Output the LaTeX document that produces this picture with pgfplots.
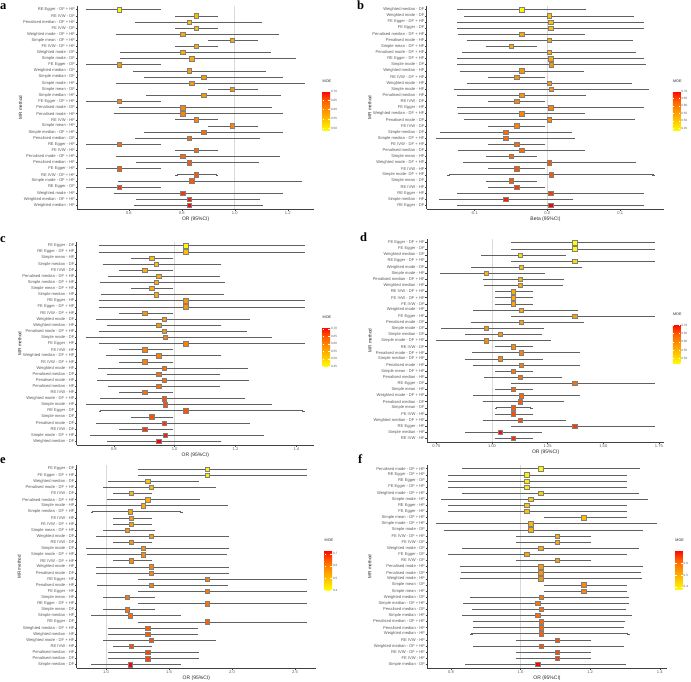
\documentclass[border=0pt]{standalone}
\usepackage{pgfplots}
\pgfplotsset{compat=1.18}
\usepackage{pgfplotstable}
\usepackage{fontspec}
\setmainfont{Liberation Sans}
\newfontfamily\panelfont{Liberation Serif}

\pgfplotstableread{
row est lo hi moe
1 0.565 0.444 0.718 0.49
2 0.854 0.781 0.932 0.55
3 0.829 0.628 1.098 0.55
4 0.854 0.781 0.932 0.55
5 0.803 0.555 1.164 0.57
6 0.990 0.904 1.083 0.57
7 0.854 0.781 0.932 0.57
8 0.803 0.571 1.131 0.57
9 0.838 0.571 1.228 0.57
10 0.565 0.444 0.718 0.59
11 0.829 0.620 1.112 0.59
12 0.883 0.662 1.177 0.59
13 0.838 0.557 1.259 0.59
14 0.990 0.904 1.083 0.59
15 0.883 0.669 1.169 0.59
16 0.565 0.444 0.718 0.61
17 0.803 0.567 1.136 0.61
18 0.803 0.548 1.177 0.61
19 0.854 0.781 0.932 0.61
20 0.990 0.904 1.083 0.61
21 0.883 0.662 1.177 0.635
22 0.829 0.630 1.091 0.635
23 0.565 0.444 0.718 0.635
24 0.854 0.781 0.932 0.635
25 0.803 0.555 1.165 0.635
26 0.829 0.633 1.087 0.65
27 0.565 0.444 0.718 0.65
28 0.854 0.781 0.932 0.65
29 0.838 0.565 1.250 0.65
30 0.565 0.444 0.718 0.67
31 0.803 0.548 1.177 0.67
32 0.829 0.633 1.091 0.685
33 0.829 0.625 1.101 0.70
}\tabA

\pgfplotstableread{
row est lo hi moe
1 -0.0352 -0.1219 0.0516 0.44
2 0.0027 -0.1119 0.1174 0.51
3 0.0046 -0.1219 0.1306 0.51
4 0.0046 -0.1219 0.1306 0.51
5 -0.0352 -0.1205 0.0498 0.54
6 0.0027 -0.1091 0.1151 0.54
7 -0.0498 -0.0826 -0.0164 0.54
8 0.0027 -0.1151 0.1205 0.54
9 0.0046 -0.1219 0.1306 0.54
10 0.0055 -0.1219 0.1329 0.57
11 -0.0352 -0.1187 0.0484 0.57
12 -0.0420 -0.0799 -0.0046 0.57
13 0.0027 -0.1082 0.1142 0.57
14 0.0055 -0.1265 0.1374 0.57
15 -0.0352 -0.1219 0.0507 0.57
16 -0.0420 -0.0799 -0.0046 0.59
17 0.0046 -0.1219 0.1306 0.59
18 -0.0352 -0.1205 0.0498 0.59
19 0.0027 -0.1119 0.1183 0.59
20 -0.0420 -0.0799 -0.0046 0.59
21 -0.0571 -0.1452 0.0324 0.62
22 -0.0571 -0.1507 0.0361 0.62
23 -0.0420 -0.0799 -0.0046 0.62
24 -0.0352 -0.1205 0.0498 0.62
25 -0.0498 -0.0826 -0.0164 0.62
26 0.0027 -0.1142 0.1196 0.64
27 -0.0420 -0.0799 -0.0046 0.64
28 0.0055 -0.1352 0.1457 0.64
29 -0.0498 -0.0826 -0.0164 0.64
30 -0.0420 -0.0799 -0.0046 0.66
31 0.0046 -0.1219 0.1306 0.66
32 -0.0571 -0.1470 0.0342 0.68
33 0.0046 -0.1219 0.1306 0.70
}\tabB

\pgfplotstableread{
row est lo hi moe
1 1.036 0.755 1.423 0.45
2 1.036 0.755 1.423 0.525
3 0.925 0.862 0.992 0.525
4 0.940 0.767 1.150 0.525
5 0.901 0.822 0.990 0.55
6 0.947 0.786 1.144 0.55
7 0.940 0.759 1.160 0.55
8 0.925 0.862 0.992 0.55
9 0.940 0.762 1.158 0.55
10 1.036 0.755 1.423 0.58
11 1.036 0.755 1.423 0.58
12 0.901 0.822 0.990 0.58
13 0.965 0.747 1.245 0.58
14 0.947 0.782 1.150 0.58
15 0.965 0.755 1.233 0.58
16 0.968 0.713 1.316 0.605
17 1.036 0.755 1.423 0.605
18 0.901 0.822 0.990 0.605
19 0.947 0.779 1.150 0.605
20 0.901 0.822 0.990 0.605
21 0.965 0.752 1.238 0.63
22 0.947 0.782 1.146 0.63
23 0.965 0.749 1.242 0.63
24 0.947 0.786 1.144 0.63
25 0.901 0.822 0.990 0.63
26 0.965 0.759 1.228 0.655
27 0.968 0.713 1.316 0.655
28 1.036 0.755 1.423 0.655
29 0.925 0.862 0.992 0.655
30 0.965 0.747 1.245 0.675
31 0.901 0.822 0.990 0.675
32 0.968 0.727 1.289 0.695
33 0.947 0.782 1.150 0.712
}\tabC

\pgfplotstableread{
row est lo hi moe
1 1.371 1.091 1.726 0.47
2 1.371 1.091 1.726 0.47
3 1.127 0.958 1.325 0.50
4 1.371 1.091 1.726 0.51
5 1.130 0.912 1.401 0.54
6 0.975 0.774 1.232 0.55
7 1.127 0.967 1.317 0.55
8 1.127 0.969 1.314 0.56
9 1.094 1.019 1.177 0.56
10 1.094 1.019 1.177 0.56
11 1.094 1.019 1.177 0.57
12 1.130 0.922 1.383 0.57
13 1.371 1.091 1.726 0.58
14 1.130 0.909 1.407 0.58
15 0.975 0.777 1.228 0.59
16 1.037 0.885 1.220 0.59
17 0.975 0.756 1.259 0.60
18 1.094 1.019 1.177 0.60
19 1.130 0.916 1.392 0.61
20 1.037 0.882 1.223 0.61
21 1.130 0.918 1.389 0.62
22 1.094 1.019 1.177 0.62
23 1.127 0.969 1.311 0.63
24 1.371 1.091 1.726 0.63
25 1.094 1.019 1.177 0.64
26 1.130 0.918 1.389 0.64
27 1.127 0.963 1.320 0.65
28 1.094 1.019 1.177 0.65
29 1.094 1.019 1.177 0.66
30 1.127 0.963 1.325 0.66
31 1.371 1.091 1.726 0.67
32 1.037 0.885 1.217 0.70
33 1.094 1.019 1.177 0.68
}\tabD

\pgfplotstableread{
row est lo hi moe
1 1.804 1.262 2.585 0.41
2 1.804 1.262 2.585 0.42
3 1.331 1.024 1.730 0.49
4 1.357 0.989 1.862 0.50
5 1.201 1.066 1.354 0.51
6 1.331 1.016 1.738 0.52
7 1.296 0.857 1.955 0.53
8 1.190 0.889 1.598 0.54
9 1.201 1.066 1.354 0.55
10 1.201 1.066 1.354 0.55
11 1.167 0.989 1.376 0.56
12 1.357 0.931 1.968 0.56
13 1.201 1.066 1.354 0.57
14 1.296 0.852 1.968 0.57
15 1.296 0.862 1.950 0.58
16 1.201 1.066 1.354 0.58
17 1.357 0.931 1.963 0.59
18 1.357 0.931 1.968 0.59
19 1.804 1.262 2.585 0.60
20 1.357 0.937 1.960 0.60
21 1.804 1.262 2.585 0.61
22 1.167 0.989 1.376 0.61
23 1.804 1.262 2.585 0.62
24 1.167 0.989 1.376 0.62
25 1.190 0.894 1.585 0.63
26 1.804 1.262 2.585 0.64
27 1.331 1.029 1.717 0.65
28 1.331 1.029 1.717 0.65
29 1.357 0.989 1.862 0.66
30 1.201 1.066 1.354 0.66
31 1.331 1.024 1.730 0.67
32 1.331 1.024 1.725 0.67
33 1.190 0.894 1.585 0.728
}\tabE

\pgfplotstableread{
row est lo hi moe
1 1.058 0.835 1.340 0.38
2 1.018 0.795 1.303 0.39
3 1.018 0.795 1.303 0.40
4 1.018 0.795 1.303 0.41
5 1.058 0.835 1.338 0.45
6 1.029 0.775 1.363 0.46
7 1.018 0.795 1.303 0.46
8 1.018 0.795 1.303 0.47
9 1.181 1.070 1.303 0.48
10 1.029 0.760 1.390 0.49
11 1.029 0.782 1.349 0.50
12 1.105 0.990 1.200 0.50
13 1.105 0.990 1.200 0.51
14 1.058 0.835 1.336 0.51
15 1.018 0.795 1.303 0.52
16 1.105 0.990 1.200 0.53
17 1.058 0.828 1.349 0.54
18 1.058 0.832 1.344 0.55
19 1.058 0.830 1.346 0.55
20 1.181 1.070 1.303 0.57
21 1.181 1.070 1.303 0.57
22 1.060 0.859 1.308 0.59
23 1.049 0.838 1.308 0.60
24 1.060 0.864 1.300 0.60
25 1.049 0.834 1.316 0.61
26 1.060 0.866 1.298 0.62
27 1.060 0.867 1.295 0.62
28 1.060 0.859 1.310 0.63
29 1.105 0.990 1.200 0.64
30 1.060 0.867 1.295 0.64
31 1.105 0.990 1.200 0.65
32 1.105 0.990 1.200 0.66
33 1.049 0.845 1.300 0.714
}\tabF

\pgfplotsset{
  mr/.style={
    scale only axis, height=203pt,
    ymin=0.4, ymax=33.6, ytick={1,...,33},
    axis lines=left, axis line style={-, draw=black!75, line width=0.45pt},
    tick align=outside, major tick length=1.6pt,
    tick style={draw=black!75, line width=0.4pt},
    yticklabel style={font=\fontsize{4.1}{4.1}\selectfont, text=black!65, inner sep=0.6pt},
    xticklabel style={font=\fontsize{4.1}{4.1}\selectfont, text=black!65, inner sep=0.6pt},
    xlabel style={font=\fontsize{5}{5}\selectfont, text=black!85, at={(axis description cs:0.5,-0.048)}, anchor=center},
    ylabel style={font=\fontsize{4.6}{4.6}\selectfont, text=black!85, at={(axis description cs:-0.24,0.5)}, anchor=center},
    ylabel={MR method},
    colormap={moe}{rgb255=(255,255,0) rgb255=(255,200,0) rgb255=(255,150,0) rgb255=(255,95,0) rgb255=(255,0,0)},
    colorbar,
    clip=false,
  },
  cb/.style={
    at={(parent axis.north east)}, anchor=north west, xshift=0pt, yshift=-85pt,
    width=7.5pt, height=40pt, scale only axis,
    axis line style={draw=none},
    major tick length=1.6pt, tick style={draw=white, line width=0.4pt},
    yticklabel style={font=\fontsize{3.1}{3.1}\selectfont, text=black!65, inner sep=0.8pt},
    title={MOE},
    title style={font=\fontsize{3.7}{3.7}\selectfont, text=black!85, at={(0,1)}, anchor=south west, inner sep=0pt, yshift=2.5pt},
  },
  refl/.style={black!15, line width=0.8pt, forget plot},
  fp/.style={scatter, only marks, mark=square*, mark size=2.2pt, point meta=explicit,
    scatter/use mapped color={draw=black!50, fill=mapped color},
    mark options={line width=0.35pt},
    error bars/.cd, x dir=both, x explicit,
    error bar style={draw=black!62, line width=0.55pt},
    error mark options={draw=black!62, line width=0.5pt, mark size=1.2pt}},
  table/fptab/.style={x=est, y expr=34-\thisrow{row}, x error plus expr=\thisrow{hi}-\thisrow{est}, x error minus expr=\thisrow{est}-\thisrow{lo}, meta=moe},
}

\begin{document}
\begin{tikzpicture}
\useasboundingbox (0,0) rectangle (691pt,681pt);

% ---------- a ----------
\begin{axis}[mr, at={(77.3pt,472pt)}, anchor=south west, width=236.7pt,
  xmin=0.406, xmax=1.299, xtick={0.4,0.6,0.8,1.0,1.2}, xticklabels={0.4,0.6,0.8,1.0,1.2},
  xlabel={OR (95\%CI)},
  yticklabels={Weighted median - HF, Weighted median - DF + HF, Weighted mode - HF, RE Egger - DF, Simple mode - DF + HF, RE IVW - DF + HF, FE Egger - HF, Penalised median - HF, Penalised mode - DF + HF, FE IVW - HF, RE Egger - HF, Penalised median - DF, Simple median - DF + HF, Simple mean - HF, RE IVW - HF, Penalised mode - HF, Penalised mode - DF, FE Egger - DF + HF, Simple median - HF, Simple mean - DF, Simple mode - HF, Simple median - DF, Weighted median - DF, FE Egger - DF, Simple mode - DF, Weighted mode - DF, FE IVW - DF + HF, Simple mean - DF + HF, Weighted mode - DF + HF, FE IVW - DF, Penalised median - DF + HF, RE IVW - DF, RE Egger - DF + HF},
  point meta min=0.484, point meta max=0.70,
  colorbar style={cb, ytick={0.5,0.55,0.6,0.65,0.7}, yticklabels={0.50,0.55,0.60,0.65,0.70}}]
\addplot[refl] coordinates {(1,0.4) (1,33.6)};
\addplot[fp] table[fptab] {\tabA};
\end{axis}

% ---------- b ----------
\begin{axis}[mr, at={(426.7pt,472pt)}, anchor=south west, width=237.6pt,
  xmin=-0.1653, xmax=0.1603, xtick={-0.1,0,0.1}, xticklabels={-0.1,0.0,0.1},
  xlabel={Beta (95\%CI)},
  yticklabels={RE Egger - DF, Simple median - HF, RE Egger - HF, RE IVW - HF, Simple mean - DF, Simple mode- DF + HF, FE IVW - HF, Weighted mode - DF + HF, Simple mean - HF, Penalised median - DF, FE IVW - DF + HF, Simple median - DF + HF, Simple median - DF, FE IVW - DF, Penalised mode - DF, Weighted median - DF + HF, FE Egger - HF, RE IVW - DF, Penalised median - HF, Simple mode - HF, Weighted mode - HF, RE IVW - DF + HF, Weighted median - HF, Simple mode - DF, RE Egger - DF + HF, Penalised mode - DF + HF, Simple mean - DF + HF, Penalised mode - HF, Penalised median - DF + HF, FE Egger - DF, FE Egger - DF + HF, Weighted mode - DF, Weighted median - DF},
  point meta min=0.432, point meta max=0.70,
  colorbar style={cb, ytick={0.45,0.5,0.55,0.6,0.65,0.7}, yticklabels={0.45,0.50,0.55,0.60,0.65,0.70}}]
\addplot[refl] coordinates {(0,0.4) (0,33.6)};
\addplot[fp] table[fptab] {\tabB};
\end{axis}

% ---------- c ----------
\begin{axis}[mr, at={(76.7pt,236pt)}, anchor=south west, width=237.3pt,
  xmin=0.678, xmax=1.458, xtick={0.8,1.0,1.2,1.4}, xticklabels={0.8,1.0,1.2,1.4},
  xlabel={OR (95\%CI)},
  yticklabels={Weighted median - DF, Simple mode - DF + HF, RE IVW - DF, Penalised mode - DF, Simple mean - DF, RE Egger - DF, Simple mode - HF, Weighted mode - DF + HF, RE IVW - HF, Penalised median - HF, Penalised mode - HF, Penalised median - DF, Weighted mode - HF, FE IVW - DF + HF, Weighted median - DF + HF, FE IVW - HF, FE Egger - HF, Simple mode - DF, Penalised mode - DF + HF, Weighted median - HF, Weighted mode - DF, RE IVW - DF + HF, FE Egger - DF + HF, RE Egger - HF, Simple median - HF, Simple mean - DF + HF, Simple median - DF + HF, Penalised median - DF + HF, FE IVW - DF, Simple median - DF, Simple mean - HF, RE Egger - DF + HF, FE Egger - DF},
  point meta min=0.445, point meta max=0.712,
  colorbar style={cb, ytick={0.45,0.5,0.55,0.6,0.65,0.7}, yticklabels={0.45,0.50,0.55,0.60,0.65,0.70}}]
\addplot[refl] coordinates {(1,0.4) (1,33.6)};
\addplot[fp] table[fptab] {\tabC};
\end{axis}

% ---------- d ----------
\begin{axis}[mr, at={(427pt,239pt)}, anchor=south west, width=237.3pt,
  xmin=0.708, xmax=1.774, xtick={0.75,1.0,1.25,1.5,1.75}, xticklabels={0.75,1.00,1.25,1.50,1.75},
  xlabel={OR (95\%CI)},
  yticklabels={RE IVW - HF, Simple median - HF, RE Egger - HF, Weighted median - DF + HF, FE IVW - HF, Simple mean - DF, Penalised median - DF, Weighted mode - DF + HF, Simple mean - HF, RE Egger - DF, Penalised median - HF, Simple mean - DF + HF, Penalised mode - HF, Simple median - DF + HF, Penalised mode - DF + HF, RE IVW - DF, Simple mode - DF + HF, Simple median - DF, Simple mode - DF, Penalised mode - DF, FE Egger - HF, Weighted mode - HF, FE IVW - DF, FE IVW - DF + HF, RE IVW - DF + HF, Weighted median - HF, Penalised median - DF + HF, Simple mode - HF, Weighted mode - DF, RE Egger - DF + HF, Weighted median - DF, FE Egger - DF, FE Egger - DF + HF},
  point meta min=0.468, point meta max=0.706,
  colorbar style={cb, ytick={0.5,0.55,0.6,0.65,0.7}, yticklabels={0.50,0.55,0.60,0.65,0.70}}]
\addplot[refl] coordinates {(1,0.4) (1,33.6)};
\addplot[fp] table[fptab] {\tabD};
\end{axis}

% ---------- e ----------
\begin{axis}[mr, at={(76.7pt,12.7pt)}, anchor=south west, width=239.3pt,
  xmin=0.767, xmax=2.667, xtick={1.0,1.5,2.0,2.5}, xticklabels={1.0,1.5,2.0,2.5},
  xlabel={OR (95\%CI)},
  yticklabels={Simple median - DF, Penalised median - DF, Penalised median - HF, RE IVW - HF, Weighted mode - DF + HF, Weighted median - HF, Weighted median - DF + HF, RE Egger - DF, Simple median - HF, Simple mean - DF, RE Egger - DF + HF, Simple mean - HF, FE Egger - HF, Penalised mode - HF, RE Egger - HF, Penalised mode - DF, Weighted mode - HF, RE IVW - DF + HF, Simple mode - DF + HF, Simple mode - DF, RE IVW - DF, Weighted mode - DF, Simple mean - DF + HF, FE IVW - DF + HF, FE IVW - HF, Simple median - DF + HF, Simple mode - HF, Penalised median - DF + HF, FE IVW - DF, Penalised mode - DF + HF, Weighted median - DF, FE Egger - DF + HF, FE Egger - DF},
  point meta min=0.40, point meta max=0.728,
  colorbar style={cb, ytick={0.4,0.5,0.6,0.7}, yticklabels={0.4,0.5,0.6,0.7}}]
\addplot[refl] coordinates {(1,0.4) (1,33.6)};
\addplot[fp] table[fptab] {\tabE};
\end{axis}

% ---------- f ----------
\begin{axis}[mr, at={(427.3pt,13pt)}, anchor=south west, width=239.4pt,
  xmin=0.732, xmax=1.420, xtick={0.8,1.0,1.2,1.4}, xticklabels={0.8,1.0,1.2,1.4},
  xlabel={OR (95\%CI)},
  yticklabels={Simple median - DF, FE IVW - HF, RE IVW - DF + HF, Weighted median - DF + HF, RE IVW - HF, Weighted median - HF, Penalised median - HF, Penalised median - DF + HF, Simple median - HF, Penalised median - DF, Simple median - DF + HF, Weighted median - DF, Simple mean - HF, Simple mean - DF, Weighted mode - HF, Penalised mode - DF, Penalised mode - HF, RE IVW - DF, FE Egger - DF, Weighted mode - DF, FE IVW - DF, FE IVW - DF + HF, Simple mode - DF, Simple mode - DF + HF, Simple mean - DF + HF, FE Egger - HF, RE Egger - HF, Simple mode - HF, Weighted mode - DF + HF, FE Egger - DF + HF, RE Egger - DF, RE Egger - DF + HF, Penalised mode - DF + HF},
  point meta min=0.372, point meta max=0.714,
  colorbar style={cb, ytick={0.4,0.5,0.6}, yticklabels={0.4,0.5,0.6}}]
\addplot[refl] coordinates {(1,0.4) (1,33.6)};
\addplot[fp] table[fptab] {\tabF};
\end{axis}

% panel letters
\node[anchor=base west, inner sep=0pt, font=\panelfont\bfseries\fontsize{12.5}{12.5}\selectfont] at (0pt,671.5pt) {a};
\node[anchor=base west, inner sep=0pt, font=\panelfont\bfseries\fontsize{12.5}{12.5}\selectfont] at (357pt,671.5pt) {b};
\node[anchor=base west, inner sep=0pt, font=\panelfont\bfseries\fontsize{12.5}{12.5}\selectfont] at (0pt,438.5pt) {c};
\node[anchor=base west, inner sep=0pt, font=\panelfont\bfseries\fontsize{12.5}{12.5}\selectfont] at (360pt,439pt) {d};
\node[anchor=base west, inner sep=0pt, font=\panelfont\bfseries\fontsize{12.5}{12.5}\selectfont] at (0pt,218pt) {e};
\node[anchor=base west, inner sep=0pt, font=\panelfont\bfseries\fontsize{12.5}{12.5}\selectfont] at (358pt,218pt) {f};
\end{tikzpicture}
\end{document}
